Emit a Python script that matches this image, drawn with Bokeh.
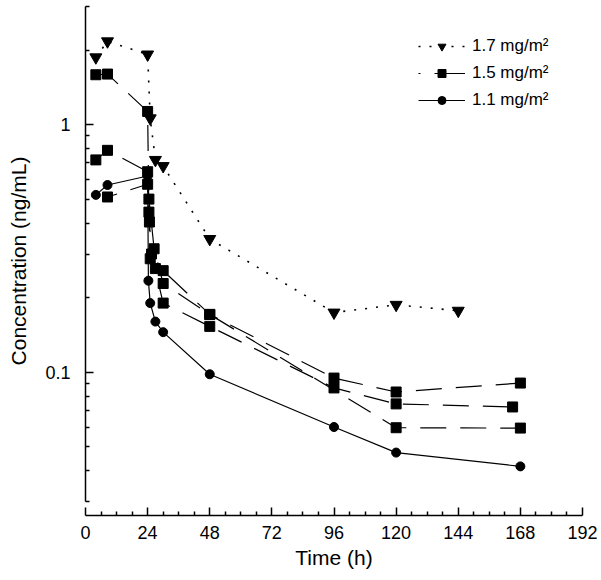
from bokeh.plotting import figure
from bokeh.models import Range1d, FixedTicker, Legend, LegendItem, CustomJSTickFormatter
from bokeh.embed import file_html
from bokeh.resources import INLINE

# ---- data ----
t_17 = [4, 8.5, 24, 25, 27, 30, 48, 96, 120, 144]
c_17 = [1.87, 2.17, 1.92, 1.06, 0.72, 0.68, 0.345, 0.174, 0.187, 0.177]

t_15a = [4, 8.5, 24, 24.5, 25, 27, 30, 48, 96, 120, 168]
c_15a = [1.59, 1.60, 1.13, 0.443, 0.287, 0.262, 0.257, 0.171, 0.0946, 0.0831, 0.0903]

t_15b = [4, 8.5, 24, 24.5, 26.5, 30, 48, 120, 168]
c_15b = [0.72, 0.787, 0.645, 0.50, 0.315, 0.228, 0.171, 0.0596, 0.0594]

t_15c = [8.5, 24, 24.7, 25.5, 30, 48, 96, 120, 165]
c_15c = [0.51, 0.574, 0.404, 0.30, 0.19, 0.153, 0.0863, 0.0744, 0.0723]

t_11 = [4, 8.5, 24, 24.3, 25, 27, 30, 48, 96, 120, 168]
c_11 = [0.52, 0.57, 0.62, 0.234, 0.19, 0.16, 0.145, 0.098, 0.060, 0.0473, 0.0416]

x_ticks = [0, 24, 48, 72, 96, 120, 144, 168, 192]
x_minor = [6, 12, 18, 30, 36, 42, 54, 60, 66, 78, 84, 90, 102, 108, 114,
           126, 132, 138, 150, 156, 162, 174, 180, 186]
y_ticks = [0.1, 1]
y_minor = [0.03, 0.04, 0.05, 0.06, 0.07, 0.08, 0.09,
           0.2, 0.3, 0.4, 0.5, 0.6, 0.7, 0.8, 0.9, 2, 3]

labels = ["1.7 mg/m²", "1.5 mg/m²", "1.1 mg/m²"]
FONT = "Liberation Sans"

p = figure(width=597, height=578,
           x_range=Range1d(0, 192), y_range=Range1d(0.02634, 3.0),
           y_axis_type="log", output_backend="svg", toolbar_location=None,
           min_border_left=85, min_border_right=15, min_border_top=6,
           min_border_bottom=63)
p.outline_line_color = None
p.xgrid.visible = False
p.ygrid.visible = False

# ---- series ----
l17 = p.line(t_17, c_17, line_color="black", line_width=1.6, line_dash="2 9")
s17 = p.scatter(t_17, c_17, marker="inverted_triangle", size=12,
                fill_color="black", line_color="black")

dash_sq = "26 14"
la = p.line(t_15a, c_15a, line_color="black", line_width=1.2, line_dash=dash_sq)
lb = p.line(t_15b, c_15b, line_color="black", line_width=1.2, line_dash=dash_sq,
            line_dash_offset=8)
lc = p.line(t_15c, c_15c, line_color="black", line_width=1.2, line_dash=dash_sq,
            line_dash_offset=16)
sa = p.scatter(t_15a, c_15a, marker="square", size=10, fill_color="black", line_color="black")
sb = p.scatter(t_15b, c_15b, marker="square", size=10, fill_color="black", line_color="black")
sc = p.scatter(t_15c, c_15c, marker="square", size=10, fill_color="black", line_color="black")
# legend-only sample line for the 1.5 group
l15_leg = p.line([0, 0], [1, 1], line_color="black", line_width=1.2,
                 line_dash="2 14 40 6", line_alpha=1.0)

l11 = p.line(t_11, c_11, line_color="black", line_width=1.2)
s11 = p.scatter(t_11, c_11, marker="circle", size=9, fill_color="black", line_color="black")

# ---- axes ----
p.xaxis.ticker = FixedTicker(ticks=x_ticks, minor_ticks=x_minor)
p.yaxis.ticker = FixedTicker(ticks=y_ticks, minor_ticks=y_minor)
p.yaxis.formatter = CustomJSTickFormatter(code="return String(tick);")
p.xaxis.bounds = (0, 192)
p.yaxis.bounds = (0.03, 3)
p.xaxis.axis_label = "Time (h)"
p.yaxis.axis_label = "Concentration (ng/mL)"

for ax in (p.xaxis, p.yaxis):
    ax.axis_line_width = 1.5
    ax.axis_line_color = "black"
    ax.major_tick_line_width = 1.5
    ax.minor_tick_line_width = 1.5
    ax.major_tick_line_color = "black"
    ax.minor_tick_line_color = "black"
    ax.major_tick_in = 8
    ax.major_tick_out = 0
    ax.minor_tick_in = 4
    ax.minor_tick_out = 0
    ax.major_label_text_font = FONT
    ax.major_label_text_font_size = "18px"
    ax.major_label_text_color = "black"
    ax.axis_label_text_font = FONT
    ax.axis_label_text_font_size = "21px"
    ax.axis_label_text_font_style = "normal"
    ax.axis_label_text_color = "black"

p.xaxis.major_label_standoff = 10
p.xaxis.axis_label_standoff = 4
p.yaxis.major_label_standoff = 15
p.yaxis.axis_label_standoff = 12

# ---- legend ----
legend = Legend(items=[
    LegendItem(label=labels[0], renderers=[l17, s17]),
    LegendItem(label=labels[1], renderers=[l15_leg, sa]),
    LegendItem(label=labels[2], renderers=[l11, s11]),
], location=(333, 405), border_line_color=None, background_fill_alpha=0,
   glyph_width=47, glyph_height=20, label_standoff=7, spacing=7,
   padding=0, margin=0, label_text_font=FONT, label_text_font_size="17px",
   label_text_color="black")
p.add_layout(legend)

open("out.html", "w").write(file_html(p, INLINE))
